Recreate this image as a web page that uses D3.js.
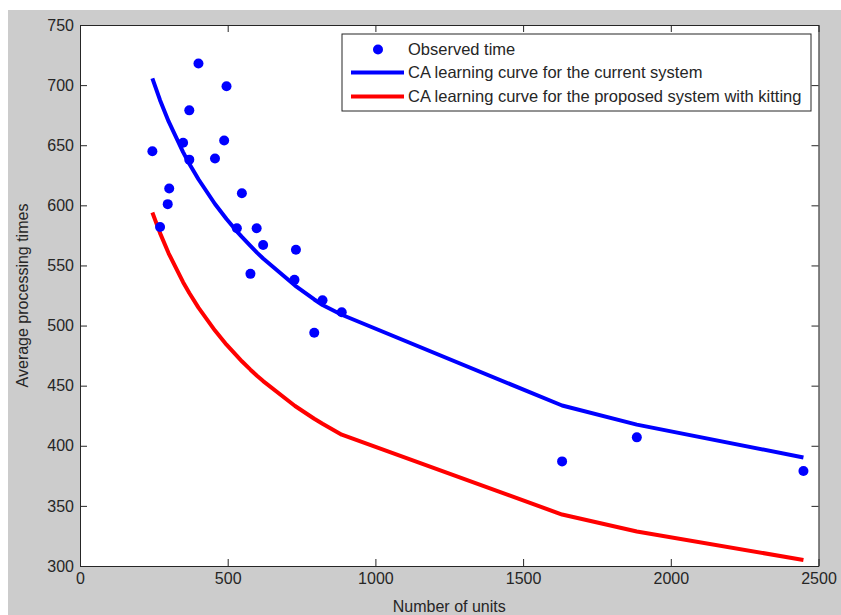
<!DOCTYPE html>
<html>
<head>
<meta charset="utf-8">
<script src="https://cdn.jsdelivr.net/npm/d3@7"></script>
<style>
  body { margin: 0; background: #fff; }
  text { font-family: "Liberation Sans", Arial, sans-serif; }
</style>
</head>
<body>
<div id="container"></div>
<script>
// Observed points (number of units, average processing time)
var obsX = [245, 271, 297, 302, 349, 370, 370, 401, 457, 488, 496, 531, 548, 577, 598, 620, 726, 731, 793, 821, 886, 1632, 1885, 2449];
var obsY = [645, 582, 601, 614, 652, 679, 638, 718, 639, 654, 699, 581, 610, 543, 581, 567, 538, 563, 494, 521, 511, 387, 407, 379];

// learning curves, read at the unit counts
var curveX = [245, 271, 300, 349, 370, 401, 457, 496, 531, 548, 577, 600, 620, 728, 793, 821, 886, 1632, 1885, 2449];
var currentY = [705.6, 687.5, 669.8, 644.3, 634.6, 621.7, 601.1, 588.6, 578.4, 573.7, 566.2, 560.5, 555.8, 533.3, 521.7, 517.1, 509, 433.5, 417.6, 390.3];
var kittingY = [594, 576.9, 560.1, 536.1, 527.1, 514.9, 495.8, 484.1, 474.7, 470.3, 463.3, 458.1, 453.8, 433.1, 422.5, 418.3, 409.2, 342.8, 328.7, 305];

var xTicks = [0, 500, 1000, 1500, 2000, 2500];
var yTicks = [300, 350, 400, 450, 500, 550, 600, 650, 700, 750];
var legendLabels = ['Observed time', 'CA learning curve for the current system', 'CA learning curve for the proposed system with kitting'];

// plot constants (plotTop, not top: window.top is read-only)
var width = 841, height = 615;
var plotLeft = 80, plotRight = 818.5, plotTop = 25, plotBottom = 566;

var svg = d3.select('#container').append('svg').attr('width', width).attr('height', height);

// grey figure background
svg.append('rect').attr('x', 8).attr('y', 10).attr('width', width - 8).attr('height', height - 10).attr('fill', '#cccccc');

var x = d3.scaleLinear().domain([0, 2500]).range([plotLeft, plotRight]);
var y = d3.scaleLinear().domain([300, 750]).range([plotBottom, plotTop]);

svg.append('rect').attr('x', plotLeft).attr('y', plotTop)
  .attr('width', plotRight - plotLeft).attr('height', plotBottom - plotTop)
  .attr('fill', '#fff');

var line = d3.line().x(function (d) { return x(d[0]); }).y(function (d) { return y(d[1]); });

svg.append('path').datum(curveX.map(function (v, i) { return [v, kittingY[i]]; }))
  .attr('d', line).attr('fill', 'none').attr('stroke', '#ff0000').attr('stroke-width', 4).attr('stroke-linejoin', 'round');
svg.append('path').datum(curveX.map(function (v, i) { return [v, currentY[i]]; }))
  .attr('d', line).attr('fill', 'none').attr('stroke', '#0000ff').attr('stroke-width', 4).attr('stroke-linejoin', 'round');

svg.append('g').selectAll('circle').data(obsX).enter().append('circle')
  .attr('cx', function (d) { return x(d); })
  .attr('cy', function (d, i) { return y(obsY[i]); })
  .attr('r', 5).attr('fill', '#0000ff');

// axes, ticks pointing inward like matlab
function styleAxis(g) {
  g.select('.domain').attr('stroke', '#262626');
  g.selectAll('.tick line').attr('stroke', '#262626');
  g.selectAll('text').attr('fill', '#262626').style('font-size', '16px')
    .style('font-family', '"Liberation Sans", Arial, sans-serif');
}
var fmt = d3.format('d');
svg.append('g').attr('transform', 'translate(0,' + plotBottom + ')')
  .call(d3.axisBottom(x).tickValues(xTicks).tickFormat(fmt).tickSizeInner(-7).tickSizeOuter(0).tickPadding(7))
  .call(styleAxis);
svg.append('g').attr('transform', 'translate(0,' + plotTop + ')')
  .call(d3.axisTop(x).tickValues(xTicks).tickSizeInner(-7).tickSizeOuter(0).tickFormat(''))
  .call(styleAxis);
svg.append('g').attr('transform', 'translate(' + plotLeft + ',0)')
  .call(d3.axisLeft(y).tickValues(yTicks).tickFormat(fmt).tickSizeInner(-7).tickSizeOuter(0).tickPadding(6))
  .call(styleAxis);
svg.append('g').attr('transform', 'translate(' + plotRight + ',0)')
  .call(d3.axisRight(y).tickValues(yTicks).tickSizeInner(-7).tickSizeOuter(0).tickFormat(''))
  .call(styleAxis);

// axis titles
svg.append('text').attr('x', (plotLeft + plotRight) / 2).attr('y', 612).attr('text-anchor', 'middle')
  .attr('fill', '#262626').style('font-size', '16px').text('Number of units');
svg.append('text').attr('transform', 'translate(28,' + ((plotTop + plotBottom) / 2) + ') rotate(-90)')
  .attr('text-anchor', 'middle').attr('fill', '#262626').style('font-size', '16px').text('Average processing times');

// legend
var legend = svg.append('g').attr('id', 'legend');
legend.append('rect').attr('x', 342).attr('y', 34).attr('width', 469).attr('height', 77)
  .attr('fill', '#fff').attr('stroke', '#262626').attr('stroke-width', 1);
var rowY = [49.5, 72.5, 96.5];
legend.append('circle').attr('cx', 378).attr('cy', rowY[0]).attr('r', 5).attr('fill', '#0000ff');
legend.append('line').attr('x1', 351).attr('x2', 404).attr('y1', rowY[1]).attr('y2', rowY[1])
  .attr('stroke', '#0000ff').attr('stroke-width', 4);
legend.append('line').attr('x1', 351).attr('x2', 404).attr('y1', rowY[2]).attr('y2', rowY[2])
  .attr('stroke', '#ff0000').attr('stroke-width', 4);
legend.selectAll('text.lab').data(legendLabels).enter().append('text').attr('class', 'lab')
  .attr('x', 408).attr('y', function (d, i) { return rowY[i]; }).attr('dy', '0.35em')
  .attr('fill', '#262626').style('font-size', '16.5px').text(function (d) { return d; });
</script>
</body>
</html>
